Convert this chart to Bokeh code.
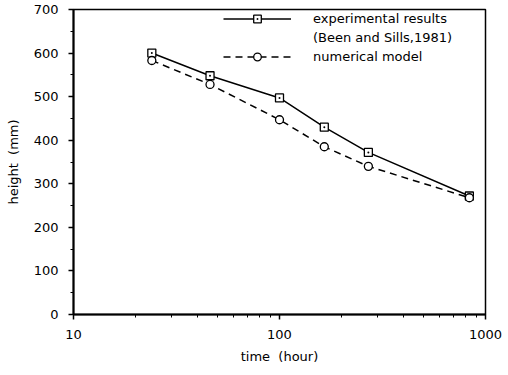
from bokeh.plotting import figure
from bokeh.models import Legend, LegendItem, SingleIntervalTicker, FixedTicker
from bokeh.embed import file_html
from bokeh.resources import INLINE

# Data
time_exp = [24, 46, 100, 165, 270, 835]
height_exp = [600, 548, 497, 430, 372, 272]
time_num = [24, 46, 100, 165, 270, 835]
height_num = [583, 528, 447, 385, 340, 268]

x_ticks = [10, 100, 1000]
x_minor = [20, 30, 40, 50, 60, 70, 80, 90, 200, 300, 400, 500, 600, 700, 800, 900]
x_labels = {10: "10", 100: "100", 1000: "1000"}

FONT = "DejaVu Sans"

p = figure(width=508, height=375, x_axis_type="log",
           x_range=(10, 1000), y_range=(0, 700),
           output_backend="svg", toolbar_location=None,
           min_border_left=73, min_border_right=23,
           min_border_top=9, min_border_bottom=61)
p.frame_width = 412
p.frame_height = 305

p.grid.visible = False
p.outline_line_color = "black"
p.outline_line_width = 1.5
p.background_fill_color = "white"

# axes
p.xaxis.ticker = FixedTicker(ticks=x_ticks, minor_ticks=x_minor)
p.yaxis.ticker = SingleIntervalTicker(interval=100, num_minor_ticks=2)

for ax in (p.xaxis[0], p.yaxis[0]):
    ax.axis_line_width = 2
    ax.axis_line_color = "black"
    ax.major_tick_line_color = "black"
    ax.minor_tick_line_color = "black"
    ax.major_tick_line_width = 1.5
    ax.minor_tick_line_width = 1
    ax.major_tick_in = 0
    ax.major_tick_out = 5
    ax.minor_tick_in = 0
    ax.minor_tick_out = 3
    ax.major_label_text_font = FONT
    ax.major_label_text_font_size = "13px"
    ax.major_label_text_color = "black"
    ax.axis_label_text_font = FONT
    ax.axis_label_text_font_size = "13px"
    ax.axis_label_text_font_style = "normal"
    ax.axis_label_text_color = "black"

p.xaxis.major_label_overrides = x_labels
p.xaxis.axis_label = "time\u00a0\u00a0(hour)"
p.yaxis.axis_label = "height\u00a0\u00a0(mm)"
p.xaxis.major_label_standoff = 10
p.xaxis.axis_label_standoff = 7
p.yaxis.major_label_standoff = 10
p.yaxis.axis_label_standoff = 10

# series
l1 = p.line(time_exp, height_exp, line_color="black", line_width=1.5)
s1 = p.scatter(time_exp, height_exp, marker="square_dot", size=8,
               fill_color="white", line_color="black", line_width=1.3)
l2 = p.line(time_num, height_num, line_color="black", line_width=1.5,
            line_dash="7 5")
s2 = p.scatter(time_num, height_num, marker="circle", size=8,
               fill_color="white", line_color="black", line_width=1.3)
dummy = p.line([], [], line_alpha=0)

legend = Legend(items=[
    LegendItem(label="experimental results", renderers=[l1, s1]),
    LegendItem(label="(Been and Sills,1981)", renderers=[dummy]),
    LegendItem(label="numerical model", renderers=[l2, s2]),
], location=(150, 248), padding=0, margin=0, spacing=0,
    glyph_width=68, glyph_height=19, label_height=19, label_standoff=22,
    border_line_alpha=0, background_fill_alpha=0,
    label_text_font=FONT, label_text_font_size="13px",
    label_text_color="black")
p.add_layout(legend, "center")

open("out.html", "w").write(file_html(p, INLINE))
